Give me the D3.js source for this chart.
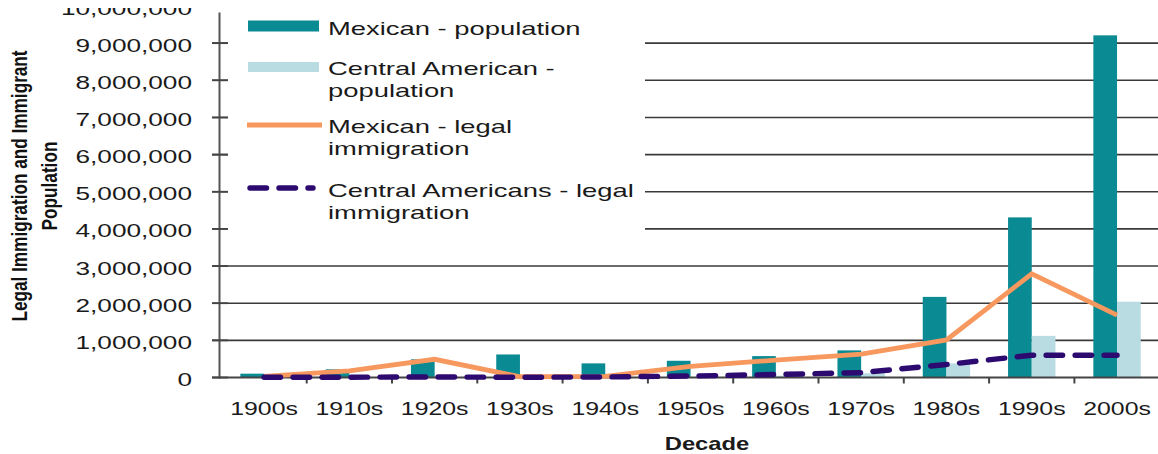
<!DOCTYPE html>
<html>
<head>
<meta charset="utf-8">
<script src="https://cdn.jsdelivr.net/npm/d3@7/dist/d3.min.js"></script>
<style>
  html, body { margin: 0; padding: 0; background: #fff; }
  svg { display: block; font-family: "Liberation Sans", Arial, sans-serif; }
</style>
</head>
<body>
<svg id="chart" width="1158" height="454"></svg>
<script>
// Decades on the category axis
const decades = ["1900s", "1910s", "1920s", "1930s", "1940s", "1950s",
                 "1960s", "1970s", "1980s", "1990s", "2000s"];

// Foreign-born population (bars)
const mexicanPopulation = [103000, 220000, 490000, 620000, 380000, 450000,
                           576000, 730000, 2170000, 4310000, 9210000];
const centralAmericanPopulation = [3000, 4000, 5000, 6000, 8000, 15000,
                                   48000, 114000, 380000, 1120000, 2040000];

// Legal immigration per decade (lines)
const mexicanLegal = [30000, 180000, 490000, 20000, 30000, 300000,
                      470000, 630000, 1010000, 2790000, 1680000];
const centralAmericanLegal = [5000, 8000, 15000, 5000, 15000, 40000,
                              80000, 130000, 350000, 600000, 600000];

// Value-axis ticks
const yTicks = [0, 1000000, 2000000, 3000000, 4000000, 5000000,
                6000000, 7000000, 8000000, 9000000, 10000000];

const legendItems = [
  { lines: ["Mexican - population"], kind: "bar", color: "#0a8a93" },
  { lines: ["Central American -", "population"], kind: "bar", color: "#b8dce2" },
  { lines: ["Mexican - legal", "immigration"], kind: "line", color: "#f7985f" },
  { lines: ["Central Americans - legal", "immigration"], kind: "dash", color: "#2c0a70" }
];

const svg = d3.select("#chart");
const SX = 1.38;       // horizontal stretch of the lettering
const SX_LEG = 1.48;

// Everything is drawn inside a frame whose top edge trims the first label
svg.append("defs").append("clipPath").attr("id", "frame")
  .append("rect").attr("x", 0).attr("y", 8).attr("width", 1158).attr("height", 446);
const root = svg.append("g").attr("clip-path", "url(#frame)");

const x = d3.scaleBand().domain(decades).range([221.4, 1159.7]).paddingInner(0).paddingOuter(0);
const xSub = d3.scaleBand().domain(["mex", "ca"]).range([0, x.bandwidth()])
  .paddingInner(0).paddingOuter(0.8);
const y = d3.scaleLinear().domain([0, 10000000]).range([377.5, 6]);

const fmt = d3.format(",");

// Gridlines (top tick sits on the plot edge, no line there)
root.append("g").selectAll("line")
  .data(yTicks.filter(v => v > 0 && v < 10000000))
  .join("line")
  .attr("x1", 212).attr("x2", 1158)
  .attr("y1", d => y(d)).attr("y2", d => y(d))
  .attr("stroke", "#3a3a3a").attr("stroke-width", 1.6);

// Bars
const groups = root.append("g").selectAll("g")
  .data(decades.map((d, i) => ({ d, mex: mexicanPopulation[i], ca: centralAmericanPopulation[i] })))
  .join("g")
  .attr("transform", r => `translate(${x(r.d)},0)`);

groups.append("rect")
  .attr("x", xSub("mex")).attr("width", xSub.bandwidth())
  .attr("y", r => y(r.mex)).attr("height", r => y(0) - y(r.mex))
  .attr("fill", legendItems[0].color);
groups.append("rect")
  .attr("x", xSub("ca")).attr("width", xSub.bandwidth())
  .attr("y", r => y(r.ca)).attr("height", r => y(0) - y(r.ca))
  .attr("fill", legendItems[1].color);

// Category axis
root.append("line")
  .attr("x1", 212).attr("x2", 1158).attr("y1", y(0)).attr("y2", y(0))
  .attr("stroke", "#444").attr("stroke-width", 2);
root.append("g").selectAll("line")
  .data(decades.slice(1))
  .join("line")
  .attr("x1", d => x(d)).attr("x2", d => x(d))
  .attr("y1", y(0)).attr("y2", y(0) + 6)
  .attr("stroke", "#444").attr("stroke-width", 2);

// Value axis
root.append("line")
  .attr("x1", 219.5).attr("x2", 219.5).attr("y1", 12.5).attr("y2", y(0) + 1)
  .attr("stroke", "#555").attr("stroke-width", 2);
root.append("g").selectAll("line")
  .data(yTicks.filter(v => v < 10000000))
  .join("line")
  .attr("x1", 212).attr("x2", 228)
  .attr("y1", d => y(d)).attr("y2", d => y(d))
  .attr("stroke", "#444").attr("stroke-width", 1.8);

// Lines
const cx = d => x(d) + x.bandwidth() / 2;
const lineGen = vals => d3.line().x((d, i) => cx(decades[i])).y(d => y(d))(vals);

root.append("path")
  .attr("d", lineGen(mexicanLegal))
  .attr("fill", "none").attr("stroke", legendItems[2].color)
  .attr("stroke-width", 4.8).attr("stroke-linejoin", "miter");
root.append("path")
  .attr("d", lineGen(centralAmericanLegal))
  .attr("fill", "none").attr("stroke", legendItems[3].color)
  .attr("stroke-width", 5.4).attr("stroke-linecap", "round")
  .attr("stroke-dasharray", "16.5 12.5");

// Stretched text helper
function stext(parent, str, tx, ty, opts = {}) {
  const sx = opts.sx || SX;
  return parent.append("text")
    .attr("transform", `translate(${tx},${ty}) scale(${sx},1)`)
    .attr("text-anchor", opts.anchor || "start")
    .attr("font-size", opts.size || 18)
    .attr("font-weight", opts.weight || "normal")
    .attr("fill", opts.fill || "#1a1a1a")
    .text(str);
}

// Value-axis labels
yTicks.forEach(v => stext(root, fmt(v), 192, y(v) + 8.5, { anchor: "end", size: 19 }));

// Category labels
decades.forEach(d => stext(root, d, cx(d), 415, { anchor: "middle", size: 18 }));

// Axis titles
stext(root, "Decade", 707, 450, { anchor: "middle", size: 17.5, weight: "bold", sx: 1.36 });

const yt = root.append("g");
[["Legal Immigration and Immigrant", 27], ["Population", 57]].forEach(([t, bx]) => {
  yt.append("text")
    .attr("transform", `translate(${bx},186) rotate(-90) scale(1,1.25)`)
    .attr("text-anchor", "middle")
    .attr("font-size", 17.2).attr("font-weight", "bold").attr("fill", "#111")
    .text(t);
});

// Legend
const lg = root.append("g");
lg.append("rect").attr("x", 228).attr("y", 0).attr("width", 417).attr("height", 236).attr("fill", "#fff");

const rowTop = [35, 75, 133, 197];
const swatchY = [26, 67, 125, 188];
legendItems.forEach((it, i) => {
  if (it.kind === "bar") {
    lg.append("rect").attr("x", 248).attr("width", 71)
      .attr("y", swatchY[i] - (i === 0 ? 5.5 : 5)).attr("height", i === 0 ? 11 : 10)
      .attr("fill", it.color);
  } else if (it.kind === "line") {
    lg.append("line").attr("x1", 247).attr("x2", 322)
      .attr("y1", swatchY[i]).attr("y2", swatchY[i])
      .attr("stroke", it.color).attr("stroke-width", 4.8);
  } else {
    lg.append("line").attr("x1", 250).attr("x2", 313)
      .attr("y1", swatchY[i]).attr("y2", swatchY[i])
      .attr("stroke", it.color).attr("stroke-width", 5.4)
      .attr("stroke-linecap", "round").attr("stroke-dasharray", "16.5 12.5");
  }
  it.lines.forEach((t, j) => stext(lg, t, 328, rowTop[i] + j * 21.5, { size: 18.5, sx: SX_LEG }));
});
</script>
</body>
</html>
